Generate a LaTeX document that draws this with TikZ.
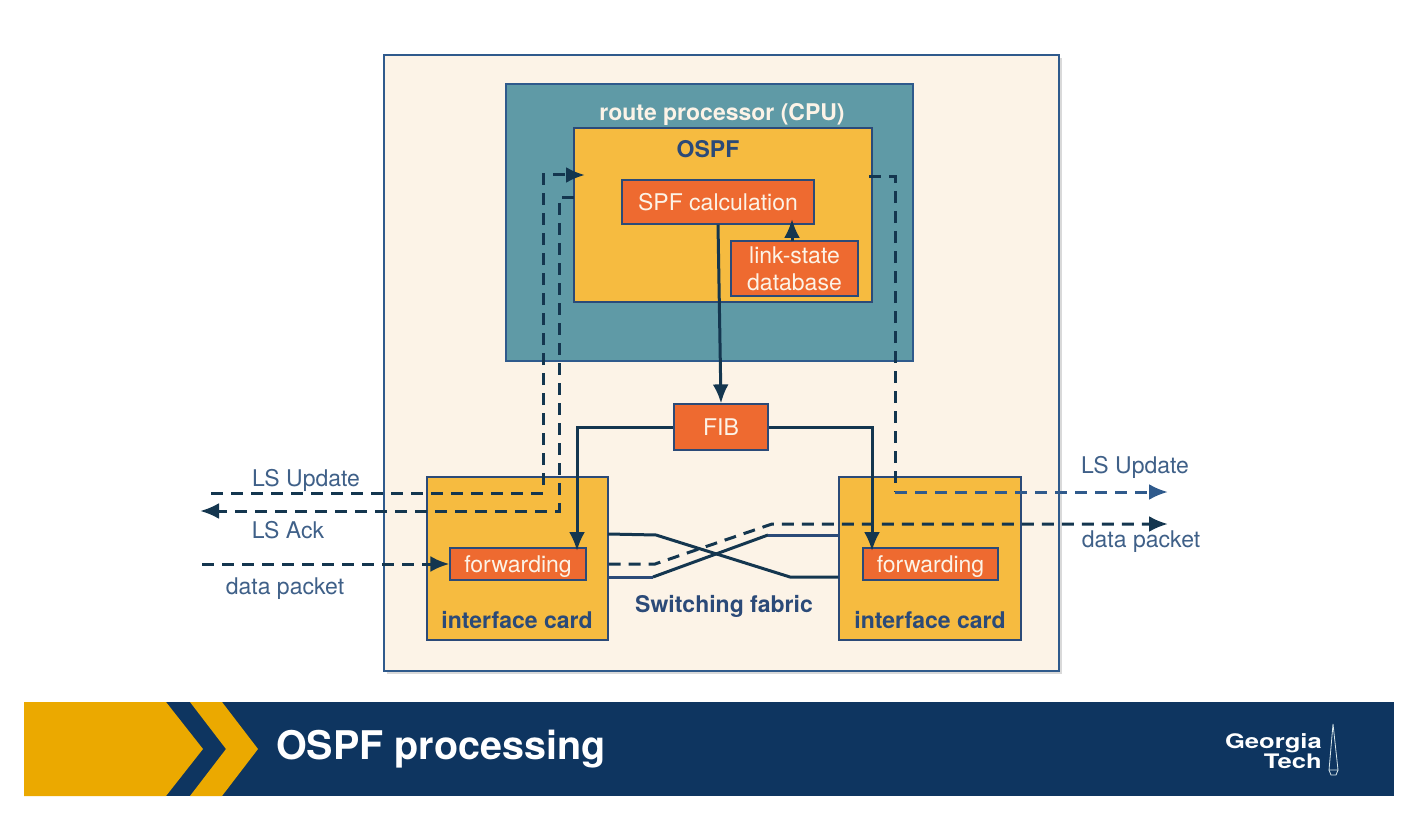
\documentclass[tikz,border=0pt]{standalone}
\usepackage{fontspec}
\setmainfont{TeX Gyre Heros}
\usetikzlibrary{arrows.meta,shadows}
\definecolor{frameblue}{HTML}{2F5A8C}
\definecolor{cream}{HTML}{FCF3E7}
\definecolor{tealbox}{HTML}{5F9AA6}
\definecolor{goldbox}{HTML}{F6BB40}
\definecolor{orangebox}{HTML}{EE6A30}
\definecolor{inkdark}{HTML}{14364F}
\definecolor{inklabel}{HTML}{3F6088}
\definecolor{inkbold}{HTML}{2B4A78}
\definecolor{navyband}{HTML}{0E3560}
\definecolor{goldband}{HTML}{EBA900}
\tikzset{
  box/.style={draw=inkbold, line width=1.2pt, inner sep=0pt, anchor=center},
  goldcard/.style={box, fill=goldbox},
  redbox/.style={box, fill=orangebox, text=cream, align=center, font=\fontsize{23}{27}\selectfont},
  oneline/.style={text height=19pt, text depth=3pt},
  tag/.style={text=inklabel, font=\fontsize{23}{26}\selectfont, inner sep=0pt},
  boldtag/.style={text=inkbold, font=\fontsize{23}{26}\selectfont\bfseries, inner sep=0pt},
  wire/.style={color=inkdark, line width=3pt},
  dashwire/.style={wire, dash pattern=on 12pt off 8pt},
  >={Latex[length=19pt,width=16pt]}
}
\begin{document}
\begin{tikzpicture}[x=1pt,y=-1pt]
  \useasboundingbox (0,0) rectangle (1420,818);

  \node[box, draw=frameblue, fill=cream, line width=2.6pt, minimum width=675pt, minimum height=616pt,
    drop shadow={shadow xshift=3pt, shadow yshift=-3pt, opacity=.3}] (router) at (721.5,363) {};
  \node[box, draw=frameblue, fill=tealbox, line width=2pt, minimum width=407pt, minimum height=277pt] (cpu) at (709.5,222.5) {};
  \node[goldcard, minimum width=298pt, minimum height=174pt] (ospf) at (723,215) {};
  \node[redbox, oneline, text height=21pt, minimum width=192pt, minimum height=44pt] (spf) at (718,202) {SPF calculation};
  \node[redbox, minimum width=127pt, minimum height=55pt] (lsdb) at (794.5,268.5) {link-state\\database};
  \node[redbox, oneline, minimum width=94pt, minimum height=46pt] (fib) at (721,427) {FIB};
  \node[goldcard, minimum width=181pt, minimum height=163pt] (cardl) at (517.5,558.5) {};
  \node[goldcard, minimum width=182pt, minimum height=163pt] (cardr) at (930,558.5) {};
  \node[redbox, oneline, minimum width=136pt, minimum height=32pt] (fwdl) at (518,564) {forwarding};
  \node[redbox, oneline, minimum width=135pt, minimum height=32pt] (fwdr) at (930.5,564) {forwarding};

  \node[text=cream, font=\fontsize{23}{26}\selectfont\bfseries, inner sep=0pt] (cputag) at (722,114) {route processor (CPU)};
  \node[boldtag] (ospftag) at (708,149) {OSPF};
  \node[boldtag] (cardltag) at (517,620) {interface card};
  \node[boldtag] (cardrtag) at (930,620) {interface card};
  \node[boldtag] (fabrictag) at (724,606) {Switching fabric};
  \node[tag] (updl) at (306,480) {LS Update};
  \node[tag] (ackl) at (288,530) {LS Ack};
  \node[tag] (datal) at (285,589) {data packet};
  \node[tag] (updr) at (1135,467) {LS Update};
  \node[tag] (datar) at (1141,542) {data packet};

  % ends and bends
  \coordinate (updlin) at (211,493);
  \coordinate (updlbend) at (543,493);
  \coordinate (updltip) at (585,175);
  \coordinate (ackstart) at (574,198);
  \coordinate (ackbend) at (559,511);
  \coordinate (acktip) at (200,511);
  \coordinate (datain) at (202,564);
  \coordinate (updrstart) at (869,177);
  \coordinate (updrbend) at (895,492);
  \coordinate (updrtip) at (1168,492);
  \coordinate (dataa) at (655,564);
  \coordinate (datab) at (772,524);
  \coordinate (datatip) at (1168,524);
  \coordinate (lsdbout) at (792,241);
  \coordinate (lsdbtip) at (792,219);
  \coordinate (fwdltip) at (577,551);
  \coordinate (fwdrtip) at (872,551);

  % switching fabric
  \draw[wire] (608,534) -- (656,535) -- (790,577) -- (cardr.west |- 0,577);
  \draw[wire, color=inkbold] (608,577) -- (653,577);
  \draw[wire] (653,577) -- (768,535);
  \draw[wire, color=inkbold] (768,535) -- (839,535);

  % control traffic
  \draw[dashwire, ->] (updlin) -- (updlbend) -- (updlbend |- updltip) -- (updltip);
  \draw[dashwire, ->] (ackstart) -- (ackbend |- ackstart) -- (ackbend) -- (acktip);
  \draw[dashwire] (updrstart) -- (updrbend |- updrstart) -- (updrbend);
  \draw[dashwire, color=frameblue, ->] (updrbend) -- (updrtip);

  % data traffic
  \draw[dashwire, ->] (datain) -- (fwdl.west);
  \draw[dashwire, ->] (cardl.east |- dataa) -- (dataa) -- (datab) -- (datatip);

  % table updates
  \draw[wire, ->] (spf.south) -- (fib.north);
  \draw[wire, ->] (lsdbout) -- (lsdbtip);
  \draw[wire, ->] (fib.west) -| (fwdltip);
  \draw[wire, ->] (fib.east) -| (fwdrtip);

  % title band
  \fill[navyband] (24,702) rectangle (1394,796);
  \fill[goldband] (24,702) -- (166,702) -- (203,749) -- (166,796) -- (24,796) -- cycle;
  \fill[goldband] (190,702) -- (222,702) -- (258,749) -- (222,796) -- (190,796) -- (226,749) -- cycle;
  \node[text=white, font=\fontsize{39.5}{42}\selectfont\bfseries, anchor=west, inner sep=0pt] (title) at (276,749) {OSPF processing};
  \node[text=white, font=\fontsize{20}{20}\selectfont\bfseries, anchor=east, align=right, inner sep=0pt, xscale=1.28] (logo) at (1322,751) {Georgia\\Tech};
  \draw[white!75!tealbox, line width=.8pt] (1333,724) -- (1329,770) -- (1338,770) -- cycle;
  \draw[white!75!tealbox, line width=.8pt] (1329,770) -- (1331,775) -- (1336,775) -- (1338,770);
\end{tikzpicture}
\end{document}
